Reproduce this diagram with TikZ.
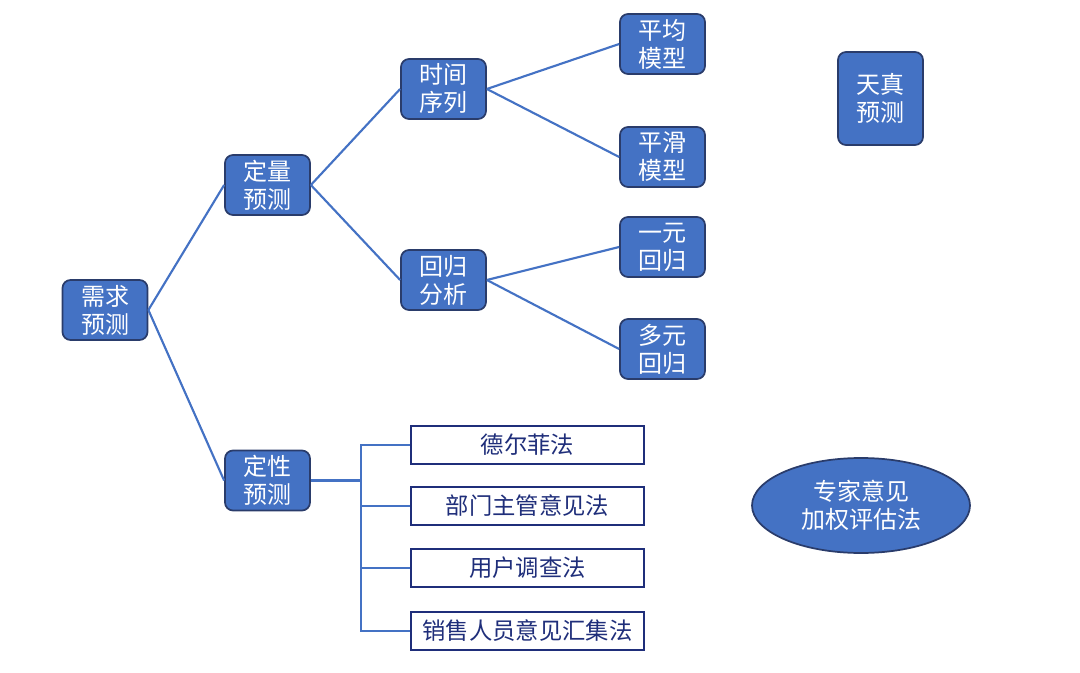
\documentclass[tikz,border=0pt]{standalone}
\usepackage{fontspec}
\setmainfont{Noto Sans CJK SC}
\usetikzlibrary{shapes.geometric}
\definecolor{nodeblue}{HTML}{4472C4}
\definecolor{edgenavy}{HTML}{2A3C6B}
\definecolor{boxnavy}{HTML}{1F2E7A}
\begin{document}
\begin{tikzpicture}[x=0.75pt,y=-0.75pt,
  bluebox/.style={draw=edgenavy,fill=nodeblue,line width=1.3pt,rounded corners=6pt,
    minimum width=85*0.75pt,minimum height=60*0.75pt,inner sep=0pt,
    text=white,font=\fontsize{18}{21}\selectfont,align=center},
  whitebox/.style={draw=boxnavy,fill=white,line width=1.5pt,
    minimum width=233*0.75pt,minimum height=38*0.75pt,inner sep=0pt,
    text=boxnavy,font=\fontsize{17.5}{20}\selectfont},
  link/.style={draw=nodeblue,line width=1.6pt}]
\useasboundingbox (0,0) rectangle (1080,673);
\node[bluebox] (xq) at (105,310) {需求\\预测};
\node[bluebox] (dl) at (267.5,185) {定量\\预测};
\node[bluebox] (dx) at (267.5,480.5) {定性\\预测};
\node[bluebox] (sj) at (443.5,89) {时间\\序列};
\node[bluebox] (hg) at (443.5,280) {回归\\分析};
\node[bluebox] (pj) at (662.5,44) {平均\\模型};
\node[bluebox] (ph) at (662.5,157) {平滑\\模型};
\node[bluebox] (yy) at (662.5,247) {一元\\回归};
\node[bluebox] (dy) at (662.5,349) {多元\\回归};
\node[bluebox,minimum height=93*0.75pt] (tz) at (880.5,98.5) {天真\\预测};
\node[ellipse,draw=edgenavy,fill=nodeblue,line width=1.3pt,minimum width=218*0.75pt,
  minimum height=95*0.75pt,inner sep=0pt,text=white,
  font=\fontsize{18}{21}\selectfont,align=center] (zj) at (861,505.5) {专家意见\\加权评估法};
\node[whitebox] (w1) at (527.5,445) {德尔菲法};
\node[whitebox] (w2) at (527.5,506) {部门主管意见法};
\node[whitebox] (w3) at (527.5,568) {用户调查法};
\node[whitebox] (w4) at (527.5,631) {销售人员意见汇集法};
\coordinate (br) at (361,480.5);
\draw[link] (xq.east) -- (dl.west);
\draw[link] (xq.east) -- (dx.west);
\draw[link] (dl.east) -- (sj.west);
\draw[link] (dl.east) -- (hg.west);
\draw[link] (sj.east) -- (pj.west);
\draw[link] (sj.east) -- (ph.west);
\draw[link] (hg.east) -- (yy.west);
\draw[link] (hg.east) -- (dy.west);
\draw[link] (dx.east) -- (br);
\draw[link] (w1.west) -| (br);
\draw[link] (w4.west) -| (br);
\draw[link] (w2.west) -- (w2.west -| br);
\draw[link] (w3.west) -- (w3.west -| br);
\end{tikzpicture}
\end{document}
